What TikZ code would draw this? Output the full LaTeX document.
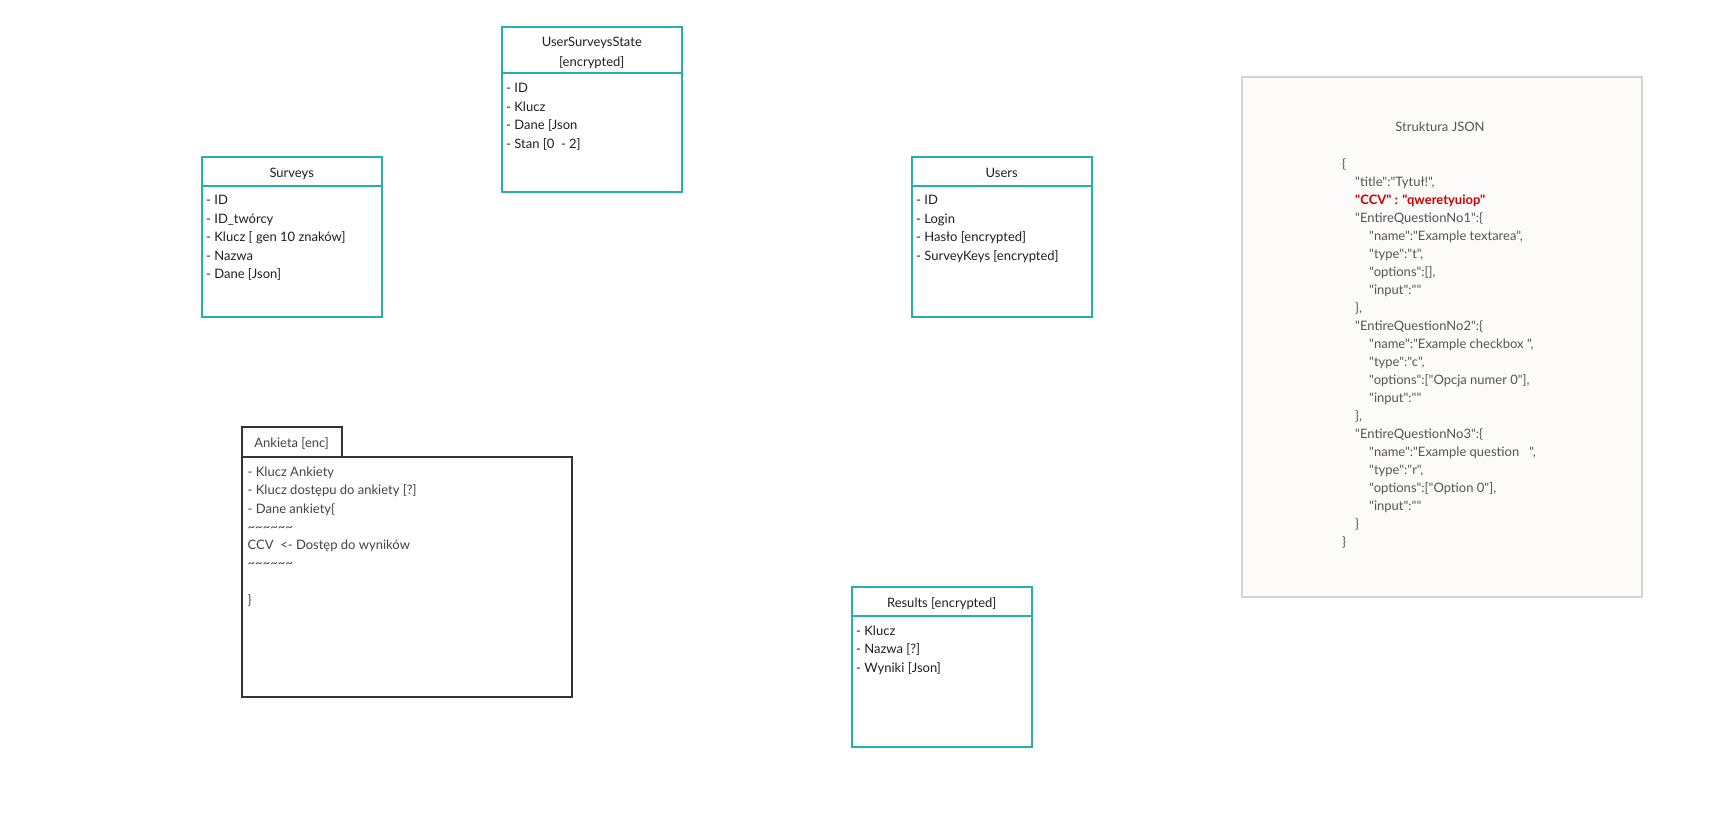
\documentclass[tikz,border=0pt]{standalone}
\usepackage{fontspec}
\setmainfont{Lato}[Ligatures=TeXOff]
\definecolor{tealline}{RGB}{38,176,172}
\definecolor{ink}{RGB}{30,30,40}
\definecolor{greyink}{RGB}{68,68,68}
\definecolor{jsonink}{RGB}{85,85,85}
\definecolor{jsonred}{RGB}{204,0,0}
\definecolor{panelfill}{RGB}{252,251,250}
\definecolor{panelline}{RGB}{212,212,212}
\definecolor{darkline}{RGB}{51,51,51}
\newcommand{\firstline}{\rule{0pt}{12pt}}
\newcommand{\wave}{\textasciitilde\textasciitilde\textasciitilde\textasciitilde\textasciitilde\textasciitilde}
\begin{document}
\begin{tikzpicture}[x=1pt,y=-1pt,
  every node/.style={font=\fontsize{13}{18.5}\selectfont},
  entity/.style={draw=tealline, line width=2pt, anchor=north west, inner sep=0pt, outer sep=0pt, fill=white},
  divider/.style={draw=tealline, line width=2pt},
  heading/.style={anchor=base, inner sep=0pt, text=ink},
  fields/.style={anchor=north west, align=left, inner sep=0pt, text=ink},
  darkbox/.style={draw=darkline, line width=2pt, anchor=north west, inner sep=0pt, outer sep=0pt},
]
\fill[white] (0,0) rectangle (1736,831);
\useasboundingbox (0,0) rectangle (1736,831);

% UserSurveysState
\node[entity, minimum width=180.3pt, minimum height=165.3pt] (uss) at (501.7,26.7) {};
\draw[divider] ([yshift=-46.6pt]uss.north west) -- ([yshift=-46.6pt]uss.north east);
\node[heading, anchor=north, align=center, font=\fontsize{13}{20}\selectfont] (usstitle) at (591.8,34.2) {\firstline UserSurveysState\\{[}encrypted{]}};
\node[fields] (ussbody) at (506,80.3) {\firstline - ID\\- Klucz\\- Dane [Json\\- Stan [0\ \ - 2]};

% Surveys
\node[entity, minimum width=180pt, minimum height=159.4pt] (surveys) at (201.7,157.3) {};
\draw[divider] ([yshift=-28.4pt]surveys.north west) -- ([yshift=-28.4pt]surveys.north east);
\node[heading] (surveystitle) at (291.7,177.2) {Surveys};
\node[fields] (surveysbody) at (206,192.3) {\firstline - ID\\- ID\_twórcy\\- Klucz [ gen 10 znaków]\\- Nazwa\\- Dane [Json]};

% Users
\node[entity, minimum width=180pt, minimum height=159.4pt] (users) at (911.7,157.3) {};
\draw[divider] ([yshift=-28.4pt]users.north west) -- ([yshift=-28.4pt]users.north east);
\node[heading] (userstitle) at (1001.7,177.2) {Users};
\node[fields] (usersbody) at (916,192.3) {\firstline - ID\\- Login\\- Hasło [encrypted]\\- SurveyKeys [encrypted]};

% Results
\node[entity, minimum width=180pt, minimum height=160pt] (results) at (851.7,586.7) {};
\draw[divider] ([yshift=-29pt]results.north west) -- ([yshift=-29pt]results.north east);
\node[heading] (resultstitle) at (941.7,607.2) {Results [encrypted]};
\node[fields] (resultsbody) at (856,623) {\firstline - Klucz\\- Nazwa [?]\\- Wyniki [Json]};

% Ankieta (tabbed box)
\node[darkbox, minimum width=100pt, minimum height=30.6pt] (anktab) at (241.7,426.7) {};
\node[darkbox, minimum width=330.3pt, minimum height=239.4pt] (ank) at (241.7,457.3) {};
\node[anchor=base, inner sep=0pt, text=greyink] (anktitle) at (anktab.center |- 0,447.2) {Ankieta [enc]};
\node[anchor=north west, align=left, inner sep=0pt, text=greyink, font=\fontsize{13}{18.3}\selectfont] (ankbody) at (247.5,464.2)
  {\firstline - Klucz Ankiety\\- Klucz dostępu do ankiety [?]\\- Dane ankiety\{\\\wave\\CCV\ \ <- Dostęp do wyników\\\wave\\\mbox{}\\\}};

% JSON structure panel
\node[draw=panelline, fill=panelfill, line width=2pt, anchor=north west, inner sep=0pt, outer sep=0pt,
      minimum width=400pt, minimum height=520pt] (json) at (1241.7,76.7) {};
\node[anchor=base, inner sep=0pt, text=jsonink] (jsontitle) at (1440,131.2) {Struktura JSON};
\node[anchor=north west, align=left, inner sep=0pt, text=jsonink, font=\fontsize{13}{18}\selectfont] (jsonbody) at (1342,155.8)
  {\firstline \{\\
   \hspace*{13pt}"title":"Tytuł!",\\
   \hspace*{13pt}\textcolor{jsonred}{\bfseries "CCV" : "qweretyuiop"}\\
   \hspace*{13pt}"EntireQuestionNo1":\{\\
   \hspace*{27pt}"name":"Example textarea",\\
   \hspace*{27pt}"type":"t",\\
   \hspace*{27pt}"options":[],\\
   \hspace*{27pt}"input":""\\
   \hspace*{13pt}\},\\
   \hspace*{13pt}"EntireQuestionNo2":\{\\
   \hspace*{27pt}"name":"Example checkbox\ ",\\
   \hspace*{27pt}"type":"c",\\
   \hspace*{27pt}"options":["Opcja numer 0"],\\
   \hspace*{27pt}"input":""\\
   \hspace*{13pt}\},\\
   \hspace*{13pt}"EntireQuestionNo3":\{\\
   \hspace*{27pt}"name":"Example question\ \ \ ",\\
   \hspace*{27pt}"type":"r",\\
   \hspace*{27pt}"options":["Option 0"],\\
   \hspace*{27pt}"input":""\\
   \hspace*{13pt}\}\\
   \}};
\end{tikzpicture}
\end{document}
